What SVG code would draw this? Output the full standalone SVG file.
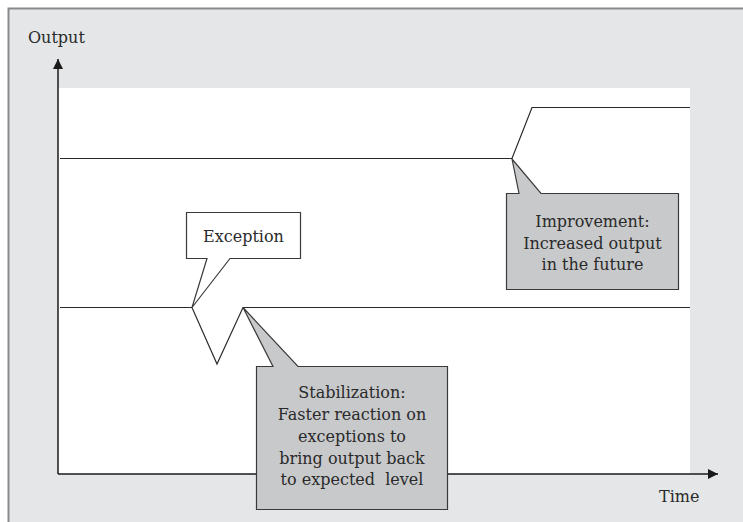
<svg xmlns="http://www.w3.org/2000/svg" width="743" height="522" viewBox="0 0 743 522">
  <defs>
    <marker id="arrow" viewBox="0 0 10 10" refX="10" refY="5" markerWidth="10" markerHeight="10" markerUnits="userSpaceOnUse" orient="auto">
      <path d="M0,0 L10,5 L0,10 z" fill="#1a1a1a"/>
    </marker>
  </defs>
  <style>
    text { font-family: "DejaVu Serif", "Liberation Serif", serif; font-size: 16px; fill: #2a2a2a; }
    .c { text-anchor: middle; }
    .line { fill: none; stroke: #2a2a2a; stroke-width: 1.2; stroke-linejoin: miter; }
    .axis { fill: none; stroke: #1a1a1a; stroke-width: 1.5; }
    .grey { fill: #c8c9cb; stroke: #3a3a3a; stroke-width: 1.2; }
    .white { fill: #ffffff; stroke: #3a3a3a; stroke-width: 1.2; }
  </style>
  <rect x="8.5" y="8.5" width="740" height="520" fill="#e5e6e8" stroke="#8a8a8a" stroke-width="2"/>
  <rect x="58" y="88" width="632" height="386" fill="#ffffff"/>

  <g id="connectors">
    <line class="axis" x1="58" y1="474" x2="58" y2="59" marker-end="url(#arrow)"/>
    <line class="axis" x1="58" y1="474" x2="718" y2="474" marker-end="url(#arrow)"/>
    <polyline class="line" points="60,158.5 512,158.5 532,107.5 690,107.5"/>
    <polyline class="line" points="60,307.5 192,307.5 217,364 243,307.5 690,307.5"/>
  </g>

  <g id="axis-labels">
    <text x="28" y="43">Output</text>
    <text x="659" y="502">Time</text>
  </g>

  <g id="exception">
    <path class="white" d="M186.5,212.5 H300.5 V258.5 H230 L192,307.5 L207,258.5 H186.5 Z"/>
    <text class="c" x="243.5" y="242">Exception</text>
  </g>

  <g id="improvement">
    <path class="grey" d="M506.5,193.5 H519 L512,159 L541,193.5 H678.5 V289.5 H506.5 Z"/>
    <text class="c" x="592.5" y="227">Improvement:</text>
    <text class="c" x="592.5" y="248.5">Increased output</text>
    <text class="c" x="592.5" y="270">in the future</text>
  </g>

  <g id="stabilization">
    <path class="grey" d="M256.5,366.5 H273 L243,307.5 L298,366.5 H447.5 V509.5 H256.5 Z"/>
    <text class="c" x="352" y="398">Stabilization:</text>
    <text class="c" x="352" y="420">Faster reaction on</text>
    <text class="c" x="352" y="442">exceptions to</text>
    <text class="c" x="352" y="463.5">bring output back</text>
    <text class="c" x="352" y="485" xml:space="preserve">to expected  level</text>
  </g>
</svg>
